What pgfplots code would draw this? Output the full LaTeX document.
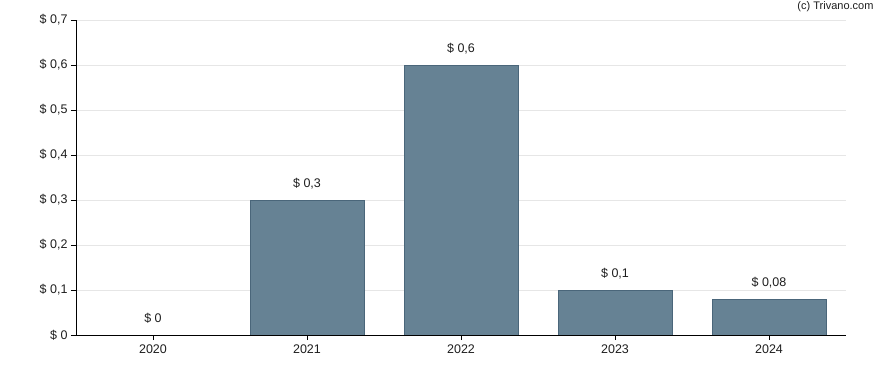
\documentclass[border=0pt]{standalone}
\usepackage{pgfplots}
\pgfplotsset{compat=1.18}
\usepackage{fontspec}
\setmainfont{Liberation Sans}
\definecolor{barfill}{RGB}{102,130,148}
\definecolor{baredge}{RGB}{74,102,122}
\definecolor{gridc}{RGB}{230,230,230}
\definecolor{txt}{RGB}{30,30,30}
\begin{document}
\begin{tikzpicture}[x=1pt,y=1pt]
\useasboundingbox (-76,-35) rectangle (812,335);
\begin{axis}[
  at={(0,0)}, anchor=south west,
  scale only axis, width=770pt, height=315pt,
  xmin=-0.5, xmax=4.5, ymin=0, ymax=0.7,
  xtick={0,1,2,3,4}, xticklabels={2020,2021,2022,2023,2024},
  ytick={0,0.1,0.2,0.3,0.4,0.5,0.6,0.7},
  yticklabels={\$ 0,\$ 0{,}1,\$ 0{,}2,\$ 0{,}3,\$ 0{,}4,\$ 0{,}5,\$ 0{,}6,\$ 0{,}7},
  axis x line*=bottom, axis y line*=left,
  axis line style={black, line width=0.9pt, -},
  tick style={black, line width=0.8pt},
  tick align=outside, major tick length=5pt,
  ymajorgrids, grid style={gridc, line width=0.7pt},
  ticklabel style={font=\fontsize{12.5}{14}\selectfont, text=txt},
  xticklabel style={yshift=-1pt},
  yticklabel style={xshift=0pt},
  ybar, bar width=114pt,
  point meta=explicit symbolic,
  nodes near coords,
  nodes near coords style={font=\fontsize{12.5}{14}\selectfont, text=txt, anchor=south, yshift=7.5pt},
  clip=false,
]
\addplot[fill=barfill, draw=baredge, line width=0.7pt] coordinates {
  (0,0) [\$ 0]
  (1,0.3) [\$ 0{,}3]
  (2,0.6) [\$ 0{,}6]
  (3,0.1) [\$ 0{,}1]
  (4,0.08) [\$ 0{,}08]
};
\end{axis}
\draw[black, line width=0.9pt] (0,0) -- (770,0);
\node[anchor=east, font=\fontsize{11}{13}\selectfont, text=txt] at (801,328) {(c) Trivano.com};
\end{tikzpicture}
\end{document}
